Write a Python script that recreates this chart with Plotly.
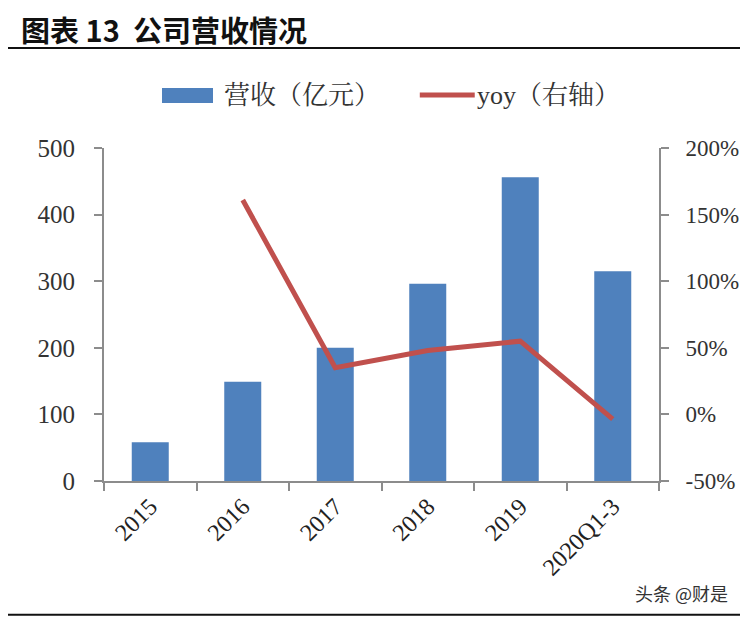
import plotly.graph_objects as go

categories = ["2015", "2016", "2017", "2018", "2019", "2020Q1-3"]
revenue = [58, 149, 200, 296, 456, 315]          # 营收（亿元）
yoy = [None, 161, 35, 48, 55, -3.5]               # yoy, %

left_ticks = [0, 100, 200, 300, 400, 500]
right_ticks = [-50, 0, 50, 100, 150, 200]
right_labels = ["-50%", "0%", "50%", "100%", "150%", "200%"]

serif = "Liberation Serif, Times New Roman, Noto Serif CJK SC, Noto Sans CJK SC, serif"
axis_grey = "#8c8c8c"
bar_color = "#4F81BD"
line_color = "#C0504D"

fig = go.Figure()

fig.add_trace(go.Bar(
    x=categories,
    y=revenue,
    name="营收（亿元）",
    marker=dict(color=bar_color, line=dict(width=0)),
))

fig.add_trace(go.Scatter(
    x=categories,
    y=yoy,
    name="yoy（右轴）",
    yaxis="y2",
    mode="lines",
    line=dict(color=line_color, width=5),
))

# 页面自带 8px 边距，所以边距整体减 8
fig.update_layout(
    width=748,
    height=620,
    margin=dict(l=96, r=97, t=140, b=147),
    paper_bgcolor="white",
    plot_bgcolor="white",
    bargap=0.6,
    showlegend=False,
    xaxis=dict(
        type="category",
        tickson="boundaries",
        ticks="outside",
        ticklen=8,
        tickwidth=2,
        tickcolor=axis_grey,
        showline=True,
        linecolor=axis_grey,
        linewidth=2,
        showgrid=False,
        tickangle=-45,
        tickfont=dict(family=serif, size=24, color="#222222"),
    ),
    yaxis=dict(
        range=[0, 500],
        tickvals=left_ticks,
        ticks="outside",
        ticklen=8,
        tickwidth=2,
        tickcolor=axis_grey,
        showline=True,
        linecolor=axis_grey,
        linewidth=2,
        showgrid=False,
        zeroline=False,
        ticklabelstandoff=14,
        tickfont=dict(family=serif, size=25, color="#333333"),
    ),
    yaxis2=dict(
        overlaying="y",
        side="right",
        range=[-50, 200],
        tickvals=right_ticks,
        ticktext=right_labels,
        ticks="outside",
        ticklen=8,
        tickwidth=2,
        tickcolor=axis_grey,
        showline=True,
        linecolor=axis_grey,
        linewidth=2,
        showgrid=False,
        zeroline=False,
        ticklabelstandoff=12,
        tickfont=dict(family=serif, size=23, color="#333333"),
    ),
)

# 图例（手工画，色块比默认的宽）
fig.add_shape(type="rect", xref="paper", yref="paper",
              x0=0.1045, x1=0.1964, y0=1.135, y1=1.180,
              fillcolor=bar_color, line=dict(width=0))
fig.add_annotation(xref="paper", yref="paper", x=0.213, y=1.159,
                   xanchor="left", yanchor="middle", showarrow=False,
                   text="营收（亿元）",
                   font=dict(family=serif, size=26, color="#333333"))
fig.add_shape(type="line", xref="paper", yref="paper",
              x0=0.569, x1=0.668, y0=1.159, y1=1.159,
              line=dict(color=line_color, width=5))
fig.add_annotation(xref="paper", yref="paper", x=0.668, y=1.159,
                   xanchor="left", yanchor="middle", showarrow=False,
                   text="yoy（右轴）",
                   font=dict(family=serif, size=26, color="#333333"))

# 标题与上下分隔线
fig.add_annotation(
    xref="paper", yref="paper", x=-0.153, y=1.357,
    xanchor="left", yanchor="middle",
    text="<b>图表 13  公司营收情况</b>",
    showarrow=False,
    font=dict(family="Noto Sans CJK SC", size=29, color="#111111"),
)
fig.add_shape(type="line", xref="paper", yref="paper",
              x0=-0.19, x1=1.17, y0=1.30, y1=1.30,
              line=dict(color="#111111", width=2))
fig.add_shape(type="line", xref="paper", yref="paper",
              x0=-0.19, x1=1.17, y0=-0.402, y1=-0.402,
              line=dict(color="#111111", width=2))

# 水印
fig.add_annotation(
    xref="paper", yref="paper", x=1.128, y=-0.336,
    xanchor="right", yanchor="middle",
    text="头条 @财是",
    showarrow=False,
    font=dict(family="Noto Sans CJK SC", size=18, color="#333333"),
)

fig.write_html("out.html")
